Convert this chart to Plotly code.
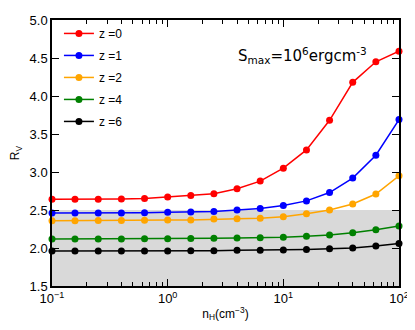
import plotly.graph_objects as go

n_h = [0.1, 0.158, 0.251, 0.398, 0.631, 1.0, 1.585, 2.51, 3.98, 6.31, 10.0, 15.85, 25.1, 39.8, 63.1, 100.0]

rv_z0 = [2.64, 2.64, 2.643, 2.646, 2.65, 2.67, 2.69, 2.715, 2.78, 2.88, 3.05, 3.29, 3.68, 4.18, 4.45, 4.59]
rv_z1 = [2.46, 2.46, 2.46, 2.462, 2.465, 2.47, 2.473, 2.48, 2.50, 2.52, 2.56, 2.62, 2.73, 2.92, 3.22, 3.69]
rv_z2 = [2.36, 2.36, 2.362, 2.363, 2.365, 2.367, 2.37, 2.38, 2.385, 2.39, 2.41, 2.45, 2.50, 2.58, 2.71, 2.95]
rv_z4 = [2.12, 2.12, 2.12, 2.12, 2.122, 2.123, 2.125, 2.127, 2.13, 2.135, 2.14, 2.155, 2.17, 2.20, 2.24, 2.29]
rv_z6 = [1.96, 1.96, 1.96, 1.96, 1.961, 1.962, 1.963, 1.965, 1.97, 1.972, 1.975, 1.98, 1.99, 2.00, 2.025, 2.06]

series_names = ["z =0", "z =1", "z =2", "z =4", "z =6"]
series_values = [rv_z0, rv_z1, rv_z2, rv_z4, rv_z6]
series_colors = ["#ff0000", "#0000ff", "#ffa500", "#008000", "#000000"]

x_tickvals = [0.1, 1, 10, 100]
x_ticktext = ["10<sup>\u22121</sup>", "10<sup>0</sup>", "10<sup>1</sup>", "10<sup>2</sup>"]
y_tickvals = [1.5, 2.0, 2.5, 3.0, 3.5, 4.0, 4.5, 5.0]

shade_low, shade_high = 1.5, 2.5

fig = go.Figure()
for name, vals, col in zip(series_names, series_values, series_colors):
    fig.add_trace(go.Scatter(
        x=n_h, y=vals, name=name, mode="lines+markers",
        legendgroup=name, cliponaxis=False,
        line=dict(color=col, width=1.5),
        marker=dict(color=col, size=7),
    ))

fig.add_shape(type="rect", xref="paper", yref="y", x0=0, x1=1,
              y0=shade_low, y1=shade_high, fillcolor="#d9d9d9",
              line=dict(width=0), layer="below")

fig.add_annotation(text="S<sub>max</sub>=10<sup>6</sup>ergcm<sup>-3</sup>",
                   xref="paper", yref="paper", x=0.53, y=0.865,
                   xanchor="left", yanchor="middle", showarrow=False,
                   font=dict(family="DejaVu Sans", size=15, color="black"))

axis_common = dict(
    showline=True, linecolor="black", linewidth=1.5, mirror="allticks",
    ticks="inside", tickcolor="black", tickwidth=1.2, ticklen=7,
    showgrid=False, zeroline=False, ticklabeloverflow="allow",
    tickfont=dict(family="Liberation Sans", size=13, color="black"),
)

fig.update_xaxes(
    type="log", range=[-1, 2], tickvals=x_tickvals, ticktext=x_ticktext,
    minor=dict(ticks="inside", ticklen=4, tickcolor="black", tickwidth=1.2,
               dtick="D1", showgrid=False),
    title=dict(text="n<sub>H</sub>(cm<sup>\u22123</sup>)", standoff=4,
               font=dict(family="Liberation Sans", size=12, color="black")),
    **axis_common,
)
fig.update_yaxes(
    range=[1.5, 5.0], tickvals=y_tickvals, tickformat=".1f",
    title=dict(text="R<sub>V</sub>", standoff=8,
               font=dict(family="Liberation Sans", size=12, color="black")),
    **axis_common,
)

fig.update_layout(
    width=407, height=322,
    margin=dict(l=41, r=16, t=5, b=44),
    paper_bgcolor="white", plot_bgcolor="white",
    font=dict(family="Liberation Sans", size=12, color="black"),
    legend=dict(x=0.02, y=1.004, xanchor="left", yanchor="top",
                bgcolor="rgba(0,0,0,0)", font=dict(size=12),
                tracegroupgap=3),
    showlegend=True,
)

fig.write_html("out.html")
